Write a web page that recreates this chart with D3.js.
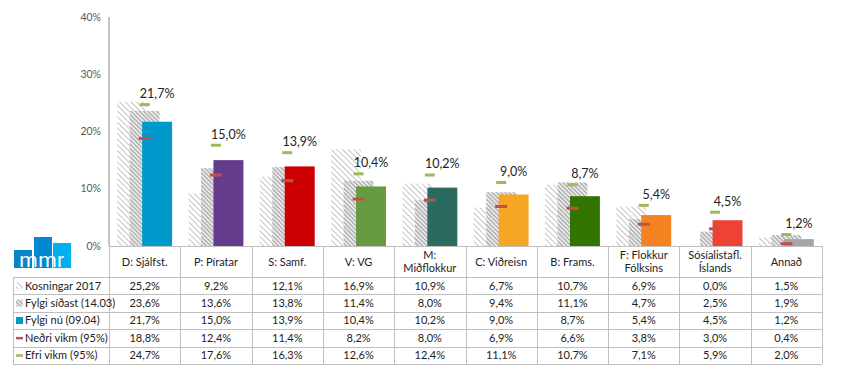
<!DOCTYPE html>
<html>
<head>
<meta charset="utf-8">
<script src="https://cdn.jsdelivr.net/npm/d3@7"></script>
<style>
  body { margin: 0; background: #fff; }
  svg { display: block; font-family: Lato, "Open Sans", sans-serif; }
</style>
</head>
<body>
<div id="chart"></div>
<script>
const parties = ["D: Sjálfst.", "P: Píratar", "S: Samf.", "V: VG", "M:\nMiðflokkur", "C: Viðreisn",
  "B: Frams.", "F: Flokkur\nFólksins", "Sósíalistafl.\nÍslands", "Annað"];
const partyColors = ["#0099cc", "#653c8d", "#cc0000", "#679b42", "#2b6a5e", "#f5a623",
  "#327400", "#f58220", "#ef4136", "#a6a6a6"];
const election2017 = [25.2, 9.2, 12.1, 16.9, 10.9, 6.7, 10.7, 6.9, 0.0, 1.5];
const previous = [23.6, 13.6, 13.8, 11.4, 8.0, 9.4, 11.1, 4.7, 2.5, 1.9];
const current = [21.7, 15.0, 13.9, 10.4, 10.2, 9.0, 8.7, 5.4, 4.5, 1.2];
const lower95 = [18.8, 12.4, 11.4, 8.2, 8.0, 6.9, 6.6, 3.8, 3.0, 0.4];
const upper95 = [24.7, 17.6, 16.3, 12.6, 12.4, 11.1, 10.7, 7.1, 5.9, 2.0];
const seriesNames = ["Kosningar 2017", "Fylgi síðast (14.03)", "Fylgi nú (09.04)", "Neðri vikm (95%)", "Efri vikm (95%)"];
const yTicks = [0, 10, 20, 30, 40];

const W = 844, H = 378;
const fmt = (v) => v.toFixed(1).replace(".", ",") + "%";

const svg = d3.select("#chart").append("svg").attr("width", W).attr("height", H);

// hatch patterns
const defs = svg.append("defs");
const light = defs.append("pattern").attr("id", "hatchLight").attr("patternUnits", "userSpaceOnUse")
  .attr("width", 4).attr("height", 4).attr("patternTransform", "rotate(-45)");
light.append("rect").attr("width", 4).attr("height", 4).attr("fill", "#fff");
light.append("rect").attr("width", 1).attr("height", 4).attr("fill", "#c4c4c4");
const dark = defs.append("pattern").attr("id", "hatchDark").attr("patternUnits", "userSpaceOnUse")
  .attr("width", 3).attr("height", 3).attr("patternTransform", "rotate(-45)");
dark.append("rect").attr("width", 3).attr("height", 3).attr("fill", "#b8b8b8");
dark.append("rect").attr("width", 1).attr("height", 3).attr("fill", "#fff");

const x = d3.scaleBand().domain(d3.range(parties.length)).range([109, 822]);
const y = d3.scaleLinear().domain([0, 40]).range([246, 17]);
const bw = x.bandwidth();
const barW = bw * 0.42, step = bw * 0.175;
const cx = (i) => x(i) + bw / 2;

// y axis
svg.append("line").attr("x1", 109).attr("x2", 109).attr("y1", y(40)).attr("y2", y(0))
  .attr("stroke", "#868686");
svg.selectAll(".ytick").data(yTicks).join("text")
  .attr("x", 101).attr("y", (d) => y(d)).attr("dy", "0.35em")
  .attr("text-anchor", "end").attr("font-size", 10.5).attr("fill", "#595959")
  .text((d) => d + "%");

// bars
const bars = svg.append("g");
bars.selectAll(".b17").data(election2017).join("rect")
  .attr("x", (d, i) => cx(i) - step - barW / 2).attr("width", barW)
  .attr("y", (d) => y(d)).attr("height", (d) => y(0) - y(d)).attr("fill", "url(#hatchLight)");
bars.selectAll(".bprev").data(previous).join("rect")
  .attr("x", (d, i) => cx(i) - barW / 2).attr("width", barW)
  .attr("y", (d) => y(d)).attr("height", (d) => y(0) - y(d)).attr("fill", "url(#hatchDark)");
bars.selectAll(".bnow").data(current).join("rect")
  .attr("x", (d, i) => cx(i) + step - barW / 2).attr("width", barW)
  .attr("y", (d) => y(d)).attr("height", (d) => y(0) - y(d))
  .attr("fill", (d, i) => partyColors[i]);

// confidence markers
bars.selectAll(".lo").data(lower95).join("rect")
  .attr("x", (d, i) => cx(i) - 6).attr("width", 12)
  .attr("y", (d) => y(d) - 1.5).attr("height", 3).attr("fill", "#c0504d");
bars.selectAll(".hi").data(upper95).join("rect")
  .attr("x", (d, i) => cx(i) - 5).attr("width", 10)
  .attr("y", (d) => y(d) - 1.5).attr("height", 3).attr("fill", "#9bbb59");

// data labels
svg.selectAll(".lbl").data(current).join("text")
  .attr("x", (d, i) => cx(i) + step).attr("y", (d, i) => y(upper95[i]) - 11)
  .attr("dy", "0.35em").attr("text-anchor", "middle")
  .attr("font-size", 12.5).attr("fill", "#222").text((d) => fmt(d));

// table
const rowTop = 277, rowH = 17.4;
const grid = svg.append("g").attr("stroke", "#bfbfbf").attr("stroke-width", 1);
grid.append("line").attr("x1", 109).attr("x2", 822).attr("y1", 246.5).attr("y2", 246.5);
d3.range(seriesNames.length + 1).forEach((r) => {
  const yy = Math.round(rowTop + r * rowH) + 0.5;
  grid.append("line").attr("x1", 13).attr("x2", 822).attr("y1", yy).attr("y2", yy);
});
grid.append("line").attr("x1", 13.5).attr("x2", 13.5).attr("y1", rowTop).attr("y2", rowTop + 5 * rowH);
d3.range(parties.length + 1).forEach((c) => {
  const xx = Math.round(x.range()[0] + c * bw) + 0.5;
  grid.append("line").attr("x1", xx).attr("x2", xx).attr("y1", 246).attr("y2", rowTop + 5 * rowH);
});

// header names
parties.forEach((p, i) => {
  const lines = p.split("\n");
  const t = svg.append("text").attr("text-anchor", "middle").attr("font-size", 11).attr("fill", "#222");
  lines.forEach((ln, k) => {
    t.append("tspan").attr("x", cx(i))
      .attr("y", 262 + (k - (lines.length - 1) / 2) * 13).attr("dy", "0.35em").text(ln);
  });
});

// rows
const rows = [election2017, previous, current, lower95, upper95];
rows.forEach((vals, r) => {
  const yc = rowTop + r * rowH + rowH / 2;
  svg.append("g").selectAll("text").data(vals).join("text")
    .attr("x", (d, i) => cx(i)).attr("y", yc).attr("dy", "0.35em")
    .attr("text-anchor", "middle").attr("font-size", 11).attr("fill", "#222")
    .text((d) => fmt(d));
  svg.append("text").attr("x", 25).attr("y", yc).attr("dy", "0.35em")
    .attr("font-size", 11).attr("fill", "#222").text(seriesNames[r]);
  const key = svg.append("g");
  if (r === 0) key.append("rect").attr("x", 16).attr("y", yc - 3.5).attr("width", 7).attr("height", 7).attr("fill", "url(#hatchLight)");
  if (r === 1) key.append("rect").attr("x", 16).attr("y", yc - 3.5).attr("width", 7).attr("height", 7).attr("fill", "url(#hatchDark)");
  if (r === 2) key.append("rect").attr("x", 16).attr("y", yc - 3.5).attr("width", 7).attr("height", 7).attr("fill", partyColors[0]);
  if (r === 3) key.append("rect").attr("x", 16).attr("y", yc - 1).attr("width", 7).attr("height", 2.5).attr("fill", "#c0504d");
  if (r === 4) key.append("rect").attr("x", 16).attr("y", yc - 1).attr("width", 7).attr("height", 2.5).attr("fill", "#9bbb59");
});

// logo
const logo = svg.append("g");
logo.append("rect").attr("x", 14).attr("y", 250).attr("width", 18).attr("height", 18).attr("fill", "#0a84c9");
logo.append("rect").attr("x", 34).attr("y", 237).attr("width", 18).attr("height", 31).attr("fill", "#0288d1");
logo.append("rect").attr("x", 53).attr("y", 243).attr("width", 18).attr("height", 25).attr("fill", "#00b0f0");
logo.append("text").attr("x", 42).attr("y", 267).attr("text-anchor", "middle")
  .attr("font-size", 21).attr("font-family", "Roboto, sans-serif").attr("fill", "#fff")
  .attr("letter-spacing", 0.5).text("mmr");
</script>
</body>
</html>
